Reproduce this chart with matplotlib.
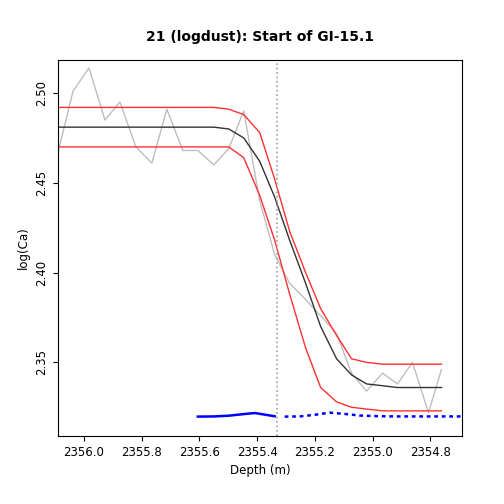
import numpy as np
import matplotlib.pyplot as plt

# pixel-read values converted to data units
def px2d(x):
    return 2356.0 - (np.array(x) - 84) / 289.0

grid_px = [58, 73, 89, 105, 120, 136, 152, 167, 183, 198, 214, 229, 244, 260, 275,
           290, 306, 321, 337, 352, 367, 383, 398, 413, 429, 442]
depth = px2d(grid_px)
obs = [2.467, 2.501, 2.514, 2.485, 2.495, 2.470, 2.461, 2.491, 2.468, 2.468, 2.460, 2.469,
       2.490, 2.440, 2.410, 2.394, 2.385, 2.376, 2.366, 2.344, 2.334, 2.344, 2.338, 2.350,
       2.322, 2.346]
fit = [2.481] * 10 + [2.481, 2.480, 2.475, 2.462, 2.442, 2.418, 2.394, 2.370, 2.352, 2.343,
                      2.338, 2.337, 2.336, 2.336, 2.336, 2.336]
upper = [2.492] * 10 + [2.492, 2.491, 2.488, 2.478, 2.452, 2.423, 2.400, 2.380, 2.365,
                        2.352, 2.350, 2.349, 2.349, 2.349, 2.349, 2.349]
lower = [2.470] * 11 + [2.470, 2.464, 2.443, 2.418, 2.388, 2.358, 2.336, 2.328, 2.325,
                        2.324, 2.323, 2.323, 2.323, 2.323, 2.323]

blue_solid_px = [198, 214, 229, 244, 255, 264, 275]
blue_solid = [2.3198, 2.3199, 2.3203, 2.3212, 2.3218, 2.3210, 2.3200]
blue_dot_px = [285, 300, 315, 330, 345, 360, 380, 400, 420, 440, 462]
blue_dot = [2.3198, 2.3199, 2.3208, 2.3220, 2.3213, 2.3204, 2.3200, 2.3199, 2.3199, 2.3199, 2.3199]
event_depth = px2d(277)

fig = plt.figure(figsize=(5.04, 5.04), dpi=100)
ax = fig.add_axes([58/504, 68/504, 404/504, 376/504])
ax.plot(depth, obs, color='#bebebe', lw=1)
ax.plot(depth, fit, color='#333333', lw=1)
ax.plot(depth, upper, color='#ff3030', lw=1)
ax.plot(depth, lower, color='#ff3030', lw=1)
ax.plot(px2d(blue_solid_px), blue_solid, color='blue', lw=1.8)
ax.plot(px2d(blue_dot_px), blue_dot, color='blue', lw=1.8, ls=(0, (1.5, 1.5)))
ax.axvline(event_depth, color='#a0a0a0', ls=':', lw=1.2)

ax.set_xlim(2356.09, 2354.69)
ax.set_ylim(2.309, 2.5184)
ax.set_xticks([2356.0, 2355.8, 2355.6, 2355.4, 2355.2, 2355.0, 2354.8])
ax.set_xticklabels(['2356.0', '2355.8', '2355.6', '2355.4', '2355.2', '2355.0', '2354.8'])
ax.set_yticks([2.35, 2.40, 2.45, 2.50])
ax.set_yticklabels(['2.35', '2.40', '2.45', '2.50'], rotation=90, va='center')
ax.tick_params(labelsize=8.5)
ax.set_xlabel('Depth (m)', fontsize=8.5)
ax.set_ylabel('log(Ca)', fontsize=8.5)
ax.set_title('21 (logdust): Start of GI-15.1', fontsize=10, fontweight='bold', pad=14)
fig.savefig('out.png', dpi=100)
